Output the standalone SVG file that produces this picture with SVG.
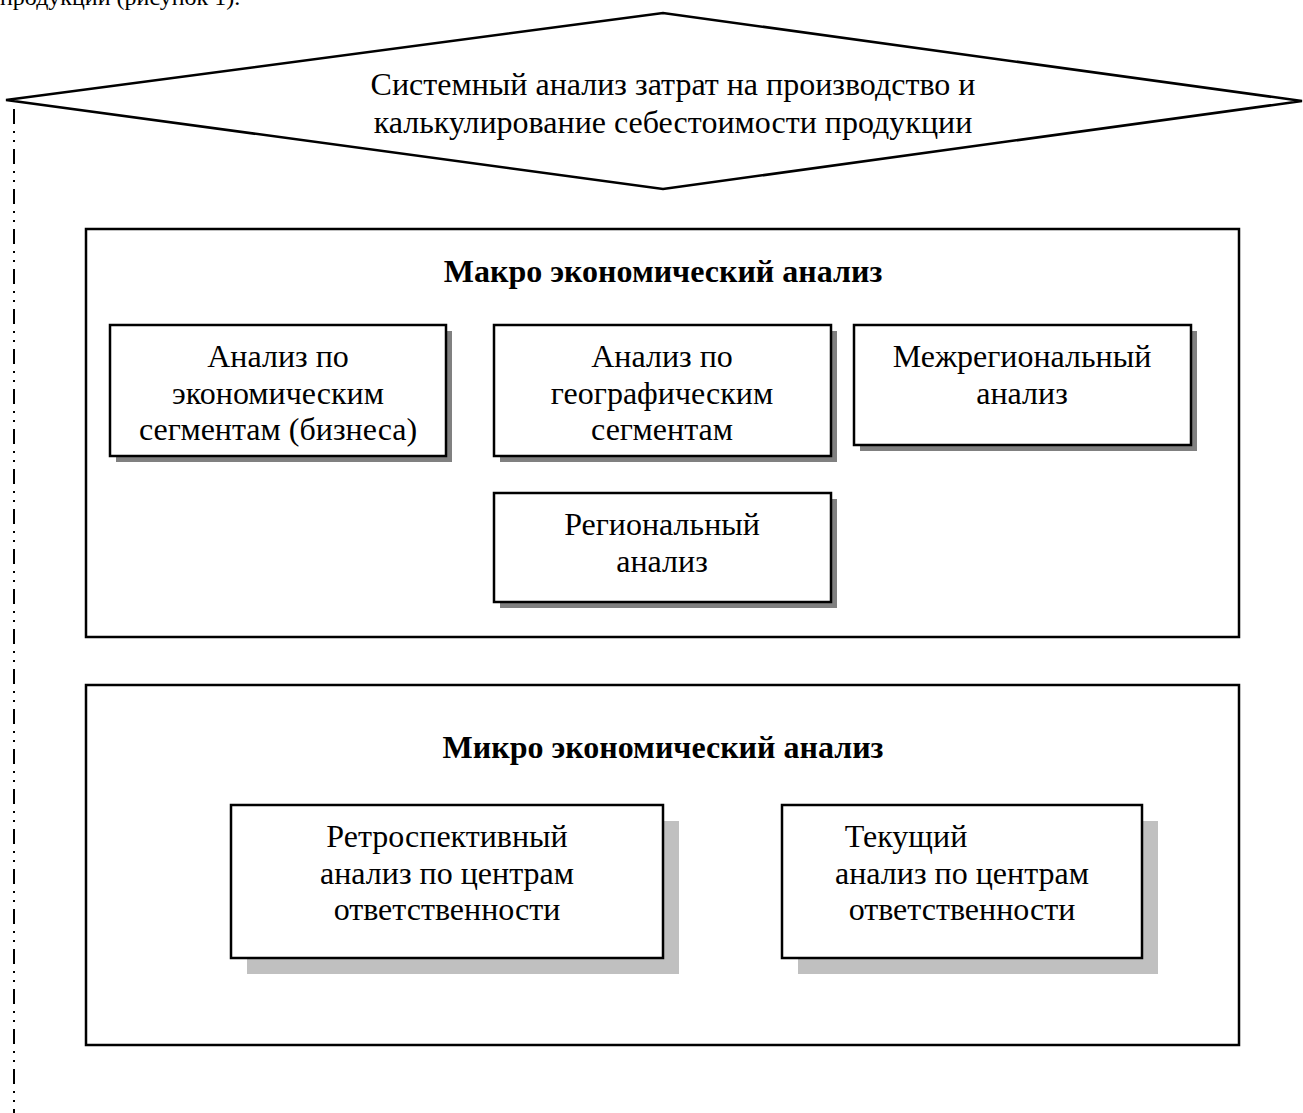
<svg xmlns="http://www.w3.org/2000/svg" width="1303" height="1113" viewBox="0 0 1303 1113">
  <style>
    text { font-family: "Liberation Serif", "Times New Roman", serif; font-size: 32px; fill: #000; text-anchor: middle; }
    .title { font-weight: bold; }
    .caption { text-anchor: start; font-size: 24px; }
    .frame { fill: #fff; stroke: #000; stroke-width: 2.5; }
    .box { fill: #fff; stroke: #000; stroke-width: 2.5; }
    .shadow-dark { fill: #808080; }
    .shadow-light { fill: #c0c0c0; }
    .axis { fill: none; stroke: #000; stroke-width: 2; stroke-dasharray: 15 7 2 7 2 7; }
  </style>

  <!-- caption line cut at the top edge -->
  <text class="caption" x="0" y="5">продукции (рисунок 1).</text>

  <!-- dash-dot guide on the left -->
  <g id="connectors">
    <line class="axis" x1="14" y1="109" x2="14" y2="1113"/>
  </g>

  <!-- header rhombus -->
  <g id="header">
    <polygon points="6,100 663,13 1302,101 663,189" fill="#fff" stroke="#000" stroke-width="2.5"/>
    <text x="673" y="95">Системный анализ затрат на производство и</text>
    <text x="673" y="133">калькулирование себестоимости продукции</text>
  </g>

  <!-- macro level -->
  <g id="macro">
    <rect class="frame" x="86" y="229" width="1153" height="408"/>
    <text class="title" x="663" y="282">Макро экономический анализ</text>
  </g>

  <g id="node-economic">
    <rect class="shadow-dark" x="116" y="331" width="336" height="131"/>
    <rect class="box" x="110" y="325" width="336" height="131"/>
    <text x="278" y="367">Анализ по</text>
    <text x="278" y="404">экономическим</text>
    <text x="278" y="440">сегментам (бизнеса)</text>
  </g>

  <g id="node-geographic">
    <rect class="shadow-dark" x="500" y="331" width="337" height="131"/>
    <rect class="box" x="494" y="325" width="337" height="131"/>
    <text x="662" y="367">Анализ по</text>
    <text x="662" y="404">географическим</text>
    <text x="662" y="440">сегментам</text>
  </g>

  <g id="node-interregional">
    <rect class="shadow-dark" x="860" y="331" width="337" height="120"/>
    <rect class="box" x="854" y="325" width="337" height="120"/>
    <text x="1022" y="367">Межрегиональный</text>
    <text x="1022" y="404">анализ</text>
  </g>

  <g id="node-regional">
    <rect class="shadow-dark" x="500" y="499" width="337" height="109"/>
    <rect class="box" x="494" y="493" width="337" height="109"/>
    <text x="662" y="535">Региональный</text>
    <text x="662" y="572">анализ</text>
  </g>

  <!-- micro level -->
  <g id="micro">
    <rect class="frame" x="86" y="685" width="1153" height="360"/>
    <text class="title" x="663" y="758">Микро экономический анализ</text>
  </g>

  <g id="node-retrospective">
    <rect class="shadow-light" x="247" y="821" width="432" height="153"/>
    <rect class="box" x="231" y="805" width="432" height="153"/>
    <text x="447" y="847">Ретроспективный</text>
    <text x="447" y="884">анализ по центрам</text>
    <text x="447" y="920">ответственности</text>
  </g>

  <g id="node-current">
    <rect class="shadow-light" x="798" y="821" width="360" height="153"/>
    <rect class="box" x="782" y="805" width="360" height="153"/>
    <text x="906" y="847">Текущий</text>
    <text x="962" y="884">анализ по центрам</text>
    <text x="962" y="920">ответственности</text>
  </g>
</svg>
